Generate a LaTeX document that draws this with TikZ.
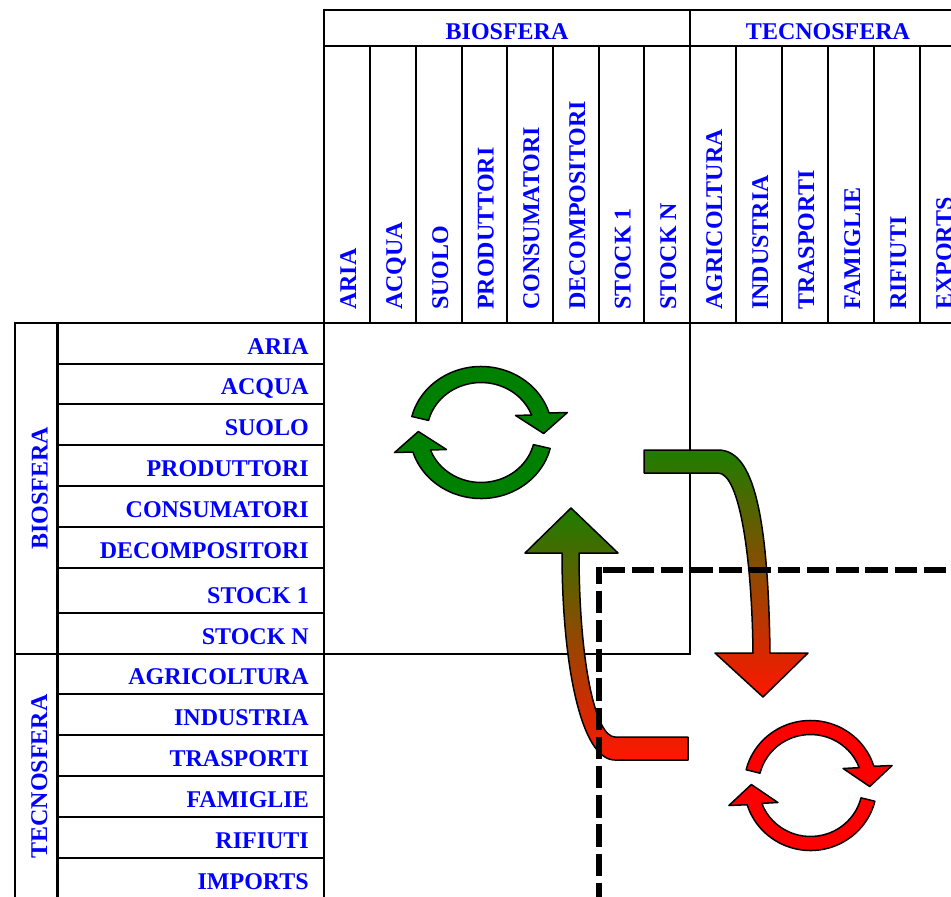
\documentclass[tikz,border=0pt]{standalone}
\usepackage{fontspec}
\setmainfont{Liberation Serif}
\definecolor{agreen}{RGB}{30,125,0}
\definecolor{amid}{RGB}{150,100,0}
\definecolor{ared}{RGB}{255,22,0}
\definecolor{ringgreen}{RGB}{0,128,0}
\definecolor{ringred}{RGB}{255,0,0}
\definecolor{lblblue}{RGB}{0,0,255}
\newcommand\myringarrow[3]{%
  \foreach \rot in {0,180}{%
    \filldraw[ringstyle, fill=#1, rotate=\rot]
      (166:#3) -- (166:#2) arc[start angle=166, end angle=17.2, radius=#2]
      -- (80,20) -- (58,-1) -- (32,17) -- (20.5:#3)
      arc[start angle=20.5, end angle=166, radius=#3] -- cycle;
  }%
}
\begin{document}
\begin{tikzpicture}[x=1pt,y=-1pt,
  tbl/.style={line width=2.5pt},
  thinln/.style={line width=1.2pt},
  lbl/.style={font=\fontsize{24}{28}\selectfont\bfseries, text=lblblue, inner sep=0pt},
  collbl/.style={lbl, rotate=90, anchor=west, text height=16pt, text depth=0pt},
  rowlbl/.style={lbl, anchor=base east},
  sidelbl/.style={lbl, rotate=90, text height=16pt, text depth=0pt},
  ringstyle/.style={draw=black, line width=1.5pt, line join=round},
  gradarrow/.style={draw=black, line width=1.5pt, line join=round, top color=agreen, middle color=amid, bottom color=ared},
  dashln/.style={line width=6pt, dash pattern=on 22.5pt off 6.7pt}
]
\useasboundingbox (0,0) rectangle (951,897);
\clip (0,0) rectangle (951,897);

% ---- table lines ----
\draw[tbl] (960,10) -- (324,10) -- (324,900);
\draw[tbl] (324,46) -- (960,46);
\draw[tbl] (15,900) -- (15,323) -- (960,323);
\draw[tbl] (690,10) -- (690,323);
\foreach \x in {370,416,462,507,553,599,644,736,782,828,874,920}
  \draw[tbl] (\x,46) -- (\x,323);
\draw[tbl] (57.5,323) -- (57.5,900);
\foreach \y in {364,404,445,486,527,568,613,694,735,776,817,858}
  \draw[tbl] (57.5,\y) -- (324,\y);
\draw[tbl] (15,654) -- (324,654);
\draw[thinln] (324,654) -- (690,654) -- (690,323);

% ---- headers ----
\node[lbl, anchor=base] (hbio) at (507,39) {BIOSFERA};
\node[lbl, anchor=base] (htec) at (828,39) {TECNOSFERA};
\node[sidelbl] (lbio) at (39.5,488.5) {BIOSFERA};
\node[sidelbl] (ltec) at (39.2,776.5) {TECNOSFERA};

\foreach \t/\c [count=\i] in {ARIA/347,ACQUA/393,SUOLO/439,PRODUTTORI/484.5,CONSUMATORI/530,DECOMPOSITORI/576,STOCK 1/621.5,STOCK N/667,AGRICOLTURA/713,INDUSTRIA/759,TRASPORTI/805,FAMIGLIE/851,RIFIUTI/897,EXPORTS/943}
  \node[collbl] (c\i) at ({\c+1},310) {\t};

\foreach \t/\b [count=\i] in {ARIA/364,ACQUA/404,SUOLO/445,PRODUTTORI/486,CONSUMATORI/527,DECOMPOSITORI/568,STOCK 1/613,STOCK N/654,AGRICOLTURA/694,INDUSTRIA/735,TRASPORTI/776,FAMIGLIE/817,RIFIUTI/858,IMPORTS/899}
  \node[rowlbl] (r\i) at (309,{\b-10}) {\t};

% ---- cycle arrows ----
\begin{scope}[shift={(481,432.5)}, x=1.08pt, y=1pt]
  \myringarrow{ringgreen}{66}{50}
\end{scope}
\begin{scope}[shift={(810.5,785.5)}, x=1.02pt, y=1pt]
  \myringarrow{ringred}{65}{51}
\end{scope}

% ---- bent gradient arrows ----
\shadedraw[gradarrow] (644,450) -- (718,450) .. controls (750,450) and (768,500) .. (770,653)
  -- (808,653) -- (763,697) -- (715,653) -- (753,653)
  .. controls (752,560) and (740,473) .. (718,473) -- (644,473) -- cycle;
\shadedraw[gradarrow] (579,553) -- (618,553) -- (571,508) -- (525,553) -- (562,553)
  .. controls (562,660) and (580,760) .. (615,760) -- (688,760) -- (688,737) -- (615,737)
  .. controls (595,737) and (579,660) .. (579,553) -- cycle;

% ---- dashed region ----
\draw[dashln, dash phase=5.5pt] (599,567) -- (599,900);
\draw[dashln] (602.5,570) -- (960,570);
\end{tikzpicture}
\end{document}
